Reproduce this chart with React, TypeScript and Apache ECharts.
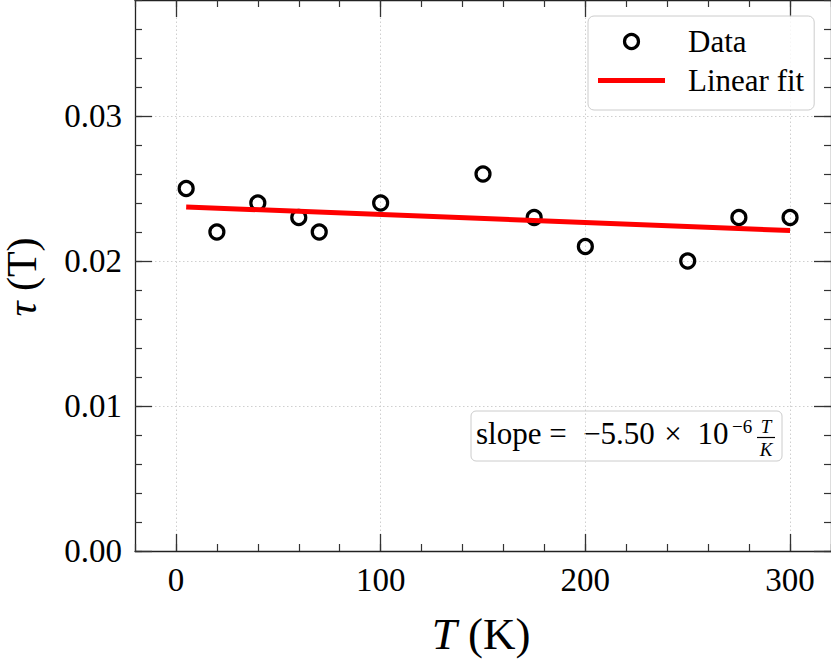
import React, { useEffect, useRef } from "react";
import * as echarts from "echarts";

// ---- data ----
const temperatures = [5, 20, 40, 60, 70, 100, 150, 175, 200, 250, 275, 300];
const tauValues = [0.025, 0.022, 0.024, 0.023, 0.022, 0.024, 0.026, 0.023, 0.021, 0.02, 0.023, 0.023];
const xTickValues = [0, 100, 200, 300];
const yTickValues = [0, 0.01, 0.02, 0.03];
const xRange = [-20, 320];
const yRange = [0, 0.038];
const seriesNames = ["Data", "Linear fit"];

const FONT = "'Liberation Serif', 'DejaVu Serif', serif";

function linearFit(xs: number[], ys: number[]) {
  const n = xs.length;
  const mx = xs.reduce((a, b) => a + b, 0) / n;
  const my = ys.reduce((a, b) => a + b, 0) / n;
  let sxy = 0;
  let sxx = 0;
  for (let i = 0; i < n; i++) {
    sxy += (xs[i] - mx) * (ys[i] - my);
    sxx += (xs[i] - mx) * (xs[i] - mx);
  }
  const slope = sxy / sxx;
  return { slope, intercept: my - slope * mx };
}

export default function App() {
  const ref = useRef<HTMLDivElement>(null);

  useEffect(() => {
    if (!ref.current) return;
    const chart = echarts.init(ref.current, undefined, { renderer: "svg" });

    const fit = linearFit(temperatures, tauValues);
    const xMin = Math.min(...temperatures);
    const xMax = Math.max(...temperatures);
    const fitData = [
      [xMin, fit.intercept + fit.slope * xMin],
      [xMax, fit.intercept + fit.slope * xMax],
    ];
    const exp = Math.floor(Math.log10(Math.abs(fit.slope)));
    const mant = fit.slope / Math.pow(10, exp);
    const mantText = (mant < 0 ? "\u2212" : "") + Math.abs(mant).toFixed(2);
    const expText = (exp < 0 ? "\u2212" : "") + Math.abs(exp);

    const plotH = 551;
    const axisColor = "#222";
    const tickColor = "#333";
    const gridColor = "#cfcfcf";

    const baseX = { type: "value", min: xRange[0], max: xRange[1], gridIndex: 0 };
    const baseY = { type: "value", min: yRange[0], max: yRange[1], gridIndex: 0 };
    const noLabel = { show: false };
    const noSplit = { show: false };

    const xAxes: any[] = [
      {
        ...baseX,
        position: "bottom",
        interval: 20,
        z: 2,
        axisLine: { show: true, onZero: false, lineStyle: { color: axisColor, width: 1.3 } },
        axisTick: { show: true, inside: true, length: 7, lineStyle: { color: tickColor, width: 1.2 } },
        axisLabel: {
          show: true,
          customValues: xTickValues,
          margin: 12,
          fontFamily: FONT,
          fontSize: 33,
          color: "#000",
          formatter: (v: number) => String(v),
        },
        splitLine: noSplit,
      },
      {
        ...baseX,
        position: "bottom",
        z: 2,
        axisLine: { show: false, onZero: false },
        axisTick: { show: true, inside: true, length: 17, customValues: xTickValues, lineStyle: { color: tickColor, width: 1.3 } },
        axisLabel: noLabel,
        splitLine: noSplit,
      },
      {
        ...baseX,
        position: "bottom",
        z: 0,
        axisLine: { show: false, onZero: false },
        axisTick: { show: true, inside: true, length: plotH, customValues: xTickValues, lineStyle: { color: gridColor, width: 1, type: [1.5, 2.5] } },
        axisLabel: noLabel,
        splitLine: noSplit,
      },
      {
        ...baseX,
        position: "top",
        interval: 20,
        z: 2,
        axisLine: { show: true, onZero: false, lineStyle: { color: axisColor, width: 1.3 } },
        axisTick: { show: true, inside: true, length: 7, lineStyle: { color: tickColor, width: 1.2 } },
        axisLabel: noLabel,
        splitLine: noSplit,
      },
      {
        ...baseX,
        position: "top",
        z: 2,
        axisLine: { show: false, onZero: false },
        axisTick: { show: true, inside: true, length: 17, customValues: xTickValues, lineStyle: { color: tickColor, width: 1.3 } },
        axisLabel: noLabel,
        splitLine: noSplit,
      },
    ];

    const yAxes: any[] = [
      {
        ...baseY,
        position: "left",
        interval: 0.01,
        z: 2,
        axisLine: { show: true, onZero: false, lineStyle: { color: axisColor, width: 1.3 } },
        axisTick: { show: true, inside: true, length: 17, customValues: yTickValues, lineStyle: { color: tickColor, width: 1.3 } },
        axisLabel: {
          show: true,
          customValues: yTickValues,
          margin: 13,
          fontFamily: FONT,
          fontSize: 33,
          color: "#000",
          formatter: (v: number) => v.toFixed(2),
        },
        splitLine: { show: true, lineStyle: { color: gridColor, width: 1, type: [1.5, 2.5] } },
      },
      {
        ...baseY,
        position: "left",
        interval: 0.002,
        z: 2,
        axisLine: { show: false, onZero: false },
        axisTick: { show: true, inside: true, length: 7, lineStyle: { color: tickColor, width: 1.2 } },
        axisLabel: noLabel,
        splitLine: noSplit,
      },
      {
        ...baseY,
        position: "right",
        z: 2,
        axisLine: { show: true, onZero: false, lineStyle: { color: axisColor, width: 1.3 } },
        axisTick: { show: true, inside: true, length: 17, customValues: yTickValues, lineStyle: { color: tickColor, width: 1.3 } },
        axisLabel: noLabel,
        splitLine: noSplit,
      },
      {
        ...baseY,
        position: "right",
        interval: 0.002,
        z: 2,
        axisLine: { show: false, onZero: false },
        axisTick: { show: true, inside: true, length: 7, lineStyle: { color: tickColor, width: 1.2 } },
        axisLabel: noLabel,
        splitLine: noSplit,
      },
    ];

    const textBase = { fontFamily: FONT, fill: "#000" };

    chart.setOption({
      animation: false,
      backgroundColor: "#ffffff",
      grid: { left: 135, top: 0, right: 0, bottom: 109, containLabel: false },
      xAxis: xAxes,
      yAxis: yAxes,
      legend: {
        orient: "vertical",
        left: 588,
        top: 16,
        padding: [10, 10, 14, 10],
        itemWidth: 67,
        itemHeight: 14,
        itemGap: 8,
        selectedMode: false,
        backgroundColor: "rgba(255,255,255,0.8)",
        borderColor: "#cccccc",
        borderWidth: 1,
        borderRadius: 6,
        textStyle: { fontFamily: FONT, fontSize: 31, lineHeight: 31, color: "#000", padding: [0, 0, 0, 18] },
        data: [
          {
            name: seriesNames[0],
            icon: "circle",
            itemStyle: { color: "rgba(0,0,0,0)", borderColor: "#000", borderWidth: 3.2, opacity: 1 },
          },
          {
            name: seriesNames[1],
            icon: "path://M0,0L67,0L67,5L0,5Z",
            itemStyle: { color: "#ff0000", borderWidth: 0, opacity: 1 },
          },
        ],
      },
      series: [
        {
          type: "scatter",
          name: seriesNames[0],
          xAxisIndex: 0,
          yAxisIndex: 0,
          data: temperatures.map((t, i) => [t, tauValues[i]]),
          symbol: "circle",
          symbolSize: 14,
          itemStyle: { color: "rgba(0,0,0,0)", borderColor: "#000", borderWidth: 3.2, opacity: 1 },
          z: 3,
        },
        {
          type: "line",
          name: seriesNames[1],
          xAxisIndex: 0,
          yAxisIndex: 0,
          data: fitData,
          symbol: "none",
          lineStyle: { color: "#ff0000", width: 5, opacity: 1 },
          itemStyle: { color: "#ff0000" },
          z: 4,
        },
      ],
      graphic: [
        {
          type: "text",
          x: 22,
          y: 277,
          rotation: Math.PI / 2,
          style: {
            ...textBase,
            text: "{i|\u03c4} (T)",
            fontSize: 42,
            textAlign: "center",
            textVerticalAlign: "middle",
            rich: { i: { fontStyle: "italic", fontSize: 42, fontFamily: FONT, fill: "#000" } },
          },
        },
        {
          type: "text",
          x: 481,
          y: 634,
          style: {
            ...textBase,
            text: "{i|T} (K)",
            fontSize: 45,
            textAlign: "center",
            textVerticalAlign: "middle",
            rich: { i: { fontStyle: "italic", fontSize: 45, fontFamily: FONT, fill: "#000" } },
          },
        },
        {
          type: "group",
          children: [
            {
              type: "rect",
              shape: { x: 471, y: 411, width: 311, height: 50, r: 5 },
              style: { fill: "rgba(255,255,255,0.8)", stroke: "#cccccc", lineWidth: 1 },
            },
            { type: "text", x: 476, y: 433.5, style: { ...textBase, text: "slope", fontSize: 31, textAlign: "left", textVerticalAlign: "middle" } },
            { type: "text", x: 558, y: 433.5, style: { ...textBase, text: "=", fontSize: 31, textAlign: "center", textVerticalAlign: "middle" } },
            { type: "text", x: 619, y: 433.5, style: { ...textBase, text: mantText, fontSize: 31, textAlign: "center", textVerticalAlign: "middle" } },
            { type: "text", x: 673, y: 433.5, style: { ...textBase, text: "\u00d7", fontSize: 31, textAlign: "center", textVerticalAlign: "middle" } },
            { type: "text", x: 713, y: 433.5, style: { ...textBase, text: "10", fontSize: 31, textAlign: "center", textVerticalAlign: "middle" } },
            { type: "text", x: 732, y: 426, style: { ...textBase, text: expText, fontSize: 19, textAlign: "left", textVerticalAlign: "middle" } },
            { type: "text", x: 766, y: 426, style: { ...textBase, text: "T", fontSize: 19, fontStyle: "italic", textAlign: "center", textVerticalAlign: "middle" } },
            { type: "line", shape: { x1: 757, y1: 437.5, x2: 775, y2: 437.5 }, style: { stroke: "#000", lineWidth: 1.2 } },
            { type: "text", x: 766, y: 449.5, style: { ...textBase, text: "K", fontSize: 19, fontStyle: "italic", textAlign: "center", textVerticalAlign: "middle" } },
          ],
        },
      ],
    });

    return () => {
      chart.dispose();
    };
  }, []);

  return (
    <div
      ref={ref}
      style={{ position: "fixed", left: 0, top: 0, width: 831, height: 660, background: "#fff" }}
    />
  );
}
